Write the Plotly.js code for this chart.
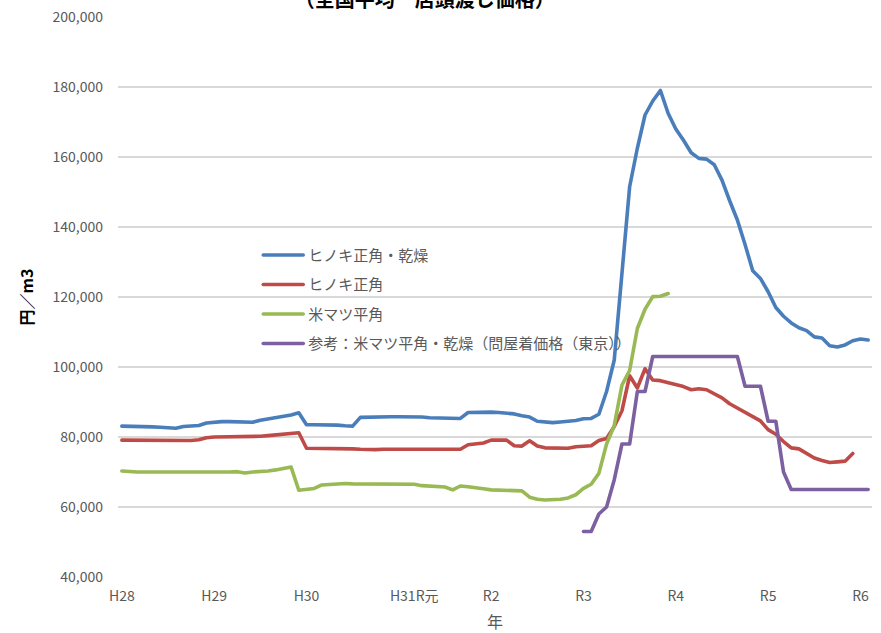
<!DOCTYPE html>
<html>
<head>
<meta charset="utf-8">
<script src="https://cdn.plot.ly/plotly-3.0.1.min.js"></script>
<style>
  body { margin: 0; background: #fff; }
  .js-line { stroke-linejoin: round; stroke-linecap: round; }
</style>
</head>
<body>
<div id="chart" style="width:881px;height:633px;"></div>
<script>
// ---- data (円/m3), monthly from H28.1 ----
const seriesNames = [
  'ヒノキ正角・乾燥',
  'ヒノキ正角',
  '米マツ平角',
  '参考：米マツ平角・乾燥（問屋着価格（東京））'
];

const hinokiDry = [
  83100, 83100, 83000, 83000, 82900, 82800, 82600, 82500, 83000, 83200,
  83300, 84000, 84300, 84400, 84400, 84300, 84200, 84200, 84800, 85200,
  85500, 85800, 86300, 86900, 83500, 83500, 83500, 83500, 83400, 83200,
  83100, 85600, 85700, 85700, 85800, 85800, 85800, 85800, 85800, 85700,
  85500, 85400, 85300, 85300, 85300, 87000, 87100, 87100, 87100, 87000,
  86800, 86600, 86100, 85700, 84500, 84300, 84100, 84300, 84500, 84700,
  85200, 85300, 86500, 93000, 102000, 126000, 151500, 162500, 172000, 176000,
  179000, 172500, 168000, 164800, 161200, 159600, 159400, 157800, 153400, 147500,
  142000, 135000, 127500, 125300, 121500, 117000, 114500, 112600, 111200, 110400,
  108600, 108300, 106100, 105700, 106300, 107500, 108000, 107700
];

const hinoki = [
  79100, 79100, 79000, 79000, 78900, 78900, 78900, 78900, 78900, 79000,
  79200, 79800, 80000, 80000, 80000, 80000, 80000, 80100, 80200, 80400,
  80600, 80900, 81000, 81200, 76800, 76800, 76800, 76700, 76700, 76600,
  76600, 76500, 76400, 76400, 76500, 76500, 76500, 76500, 76500, 76500,
  76500, 76500, 76500, 76500, 76500, 77800, 78000, 78300, 79100, 79100,
  79100, 77500, 77400, 78900, 77400, 76900, 76800, 76800, 76800, 77200,
  77300, 77500, 79000, 79600, 83000, 87500, 97500, 94000, 99500, 96300,
  96100, 95600, 95000, 94400, 93500, 93800, 93500, 92400, 91200, 89500,
  88300, 86900, 85900, 84600, 82100, 80800, 78700, 76900, 76600, 75400,
  74000, 73300, 72700, 72900, 73100, 75300
];

const beimatsu = [
  70300, 70100, 70000, 70000, 70000, 69900, 69800, 69800, 69800, 69800,
  69800, 69800, 69800, 69800, 70000, 70100, 69700, 70000, 70100, 70300,
  70600, 71000, 71400, 64800, 65000, 65300, 66300, 66500, 66700, 66700,
  66600, 66600, 66600, 66600, 66600, 66600, 66600, 66600, 66500, 66100,
  66000, 65900, 65700, 64900, 66000, 65800, 65600, 65200, 64900, 64800,
  64800, 64700, 64600, 62800, 62200, 62000, 62000, 62200, 62600, 63500,
  65300, 66500, 69600, 78000, 83300, 94800, 99000, 111000, 116500, 120100,
  120200, 121000
];

// starts at R3 (month index 60)
const beimatsuDryStart = 60;
const beimatsuDry = [
  53000, 53000, 58000, 60000, 67800, 78000, 78000, 93000, 93000, 103000,
  103000, 103000, 103000, 103000, 103000, 103000, 103000, 103000, 103000, 103000,
  103000, 94500, 94500, 94500, 84500, 84500, 70000, 65000, 65000, 65000,
  65000, 65000, 65000, 65000, 65000, 65000, 65000, 65000
];

const tickPositions = [0, 12, 24, 38, 48, 60, 72, 84, 96];
const tickLabels = ['H28', 'H29', 'H30', 'H31R元', 'R2', 'R3', 'R4', 'R5', 'R6'];

const colors = ['#4a7ebb', '#be4b48', '#98b954', '#7d60a0'];

// ---- build ----
const idx = arr => arr.map((_, i) => i);
const xDry = beimatsuDry.map((_, i) => i + beimatsuDryStart);

const seriesX = [idx(hinokiDry), idx(hinoki), idx(beimatsu), xDry];
const seriesY = [hinokiDry, hinoki, beimatsu, beimatsuDry];

const FONT = '"Noto Sans CJK JP", "Noto Sans", sans-serif';

const traces = seriesY.map((y, i) => ({
  type: 'scatter',
  mode: 'lines',
  name: seriesNames[i],
  legendgroup: 'g' + i,
  x: seriesX[i],
  y: y,
  line: { color: colors[i], width: 3.6 },
  hoverinfo: 'skip'
}));

const layout = {
  width: 881,
  height: 633,
  margin: { l: 118, r: 9, t: 17, b: 56 },
  paper_bgcolor: '#ffffff',
  plot_bgcolor: '#ffffff',
  font: { family: FONT, color: '#595959', size: 13 },
  title: {
    text: '（全国平均　店頭渡し価格）',
    font: { family: FONT, size: 20, color: '#000000', weight: 'bold' },
    xref: 'container', x: 0.482, xanchor: 'center',
    yref: 'container', y: 1.0, yanchor: 'middle'
  },
  xaxis: {
    range: [-0.5, 97.5],
    tickmode: 'array',
    tickvals: tickPositions,
    ticktext: tickLabels,
    showgrid: false,
    zeroline: false,
    showline: false,
    ticks: '',
    ticklabelstandoff: 9,
    tickfont: { family: FONT, size: 14, color: '#595959' },
    title: { text: '年', font: { family: FONT, size: 16, color: '#595959' }, standoff: 21 }
  },
  yaxis: {
    range: [40000, 200000],
    dtick: 20000,
    tickformat: ',d',
    showgrid: true,
    gridcolor: '#d9d9d9',
    gridwidth: 1.5,
    zeroline: false,
    showline: false,
    ticks: '',
    ticklabelstandoff: 14,
    tickfont: { family: FONT, size: 14, color: '#595959' },
    title: { text: '円／m3', font: { family: FONT, size: 16, color: '#000000', weight: 'bold' }, standoff: 14 }
  },
  showlegend: true,
  legend: {
    x: 0.186, y: 0.604, xanchor: 'left', yanchor: 'top',
    bgcolor: 'rgba(0,0,0,0)',
    font: { family: FONT, size: 15, color: '#595959' },
    itemwidth: 40,
    tracegroupgap: 7
  }
};

Plotly.newPlot('chart', traces, layout, { displayModeBar: false, staticPlot: true });
</script>
</body>
</html>
